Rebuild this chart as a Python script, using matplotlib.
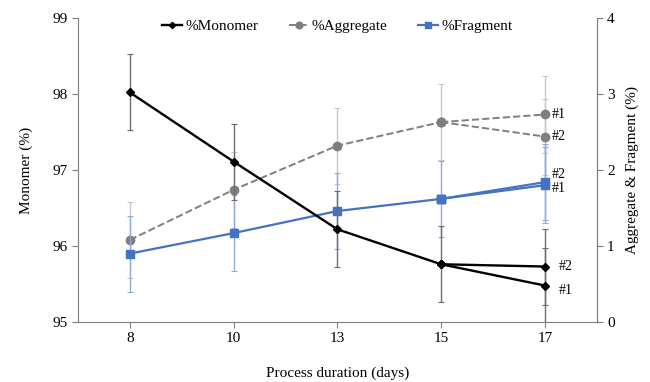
import matplotlib
matplotlib.use("Agg")
import matplotlib.pyplot as plt

plt.rcParams['font.family'] = ['Liberation Serif', 'DejaVu Serif']

# Данные
days = ["8", "10", "13", "15", "17"]
monomer = [98.02, 97.11, 96.22, 95.76]      # 8..15, общий участок
monomer_17 = {"#1": 95.48, "#2": 95.73}
aggregate = [1.08, 1.74, 2.32, 2.63]
aggregate_17 = {"#1": 2.73, "#2": 2.44}
fragment = [0.90, 1.17, 1.46, 1.62]
fragment_17 = {"#1": 1.80, "#2": 1.84}
err = 0.5

BLUE = "#4472c4"
GRAY = "#7f7f7f"

fig = plt.figure(figsize=(6.5, 3.82), dpi=100)
ax = fig.add_axes([0.12, 0.157, 0.798, 0.796])
ax2 = ax.twinx()

x = list(range(len(days)))
xm = x[:4]
x17 = x[4]


def draw_series(a, vals, ends, color, ecolor, marker, ms, ls, lw, label, z):
    # ошибки
    a.errorbar(xm, vals, yerr=err, fmt="none", ecolor=ecolor, elinewidth=1.0,
               capsize=2, capthick=0.8, zorder=z)
    for k, v in ends.items():
        a.errorbar([x17], [v], yerr=err, fmt="none", ecolor=ecolor, elinewidth=1.0,
                   capsize=2, capthick=0.8, zorder=z)
    line, = a.plot(xm, vals, color=color, marker=marker, ms=ms, ls=ls, lw=lw,
                   label=label, zorder=z + 1)
    for k, v in ends.items():
        a.plot([xm[-1], x17], [vals[-1], v], color=color, marker=marker, ms=ms,
               ls=ls, lw=lw, zorder=z + 1)
    return line


h1 = draw_series(ax, monomer, monomer_17, "black", "#6d6d6d", "D", 4, "-", 1.7, "%Monomer", 5)
h2 = draw_series(ax2, aggregate, aggregate_17, GRAY, "#c8c8c8", "o", 6, "--", 1.4, "%Aggregate", 3)
h3 = draw_series(ax2, fragment, fragment_17, BLUE, "#8fabdc", "s", 6, "-", 1.6, "%Fragment", 4)

# подписи #1 / #2
ax.text(x17 + 0.13, monomer_17["#2"], "#2", fontsize=10, va="center")
ax.text(x17 + 0.13, monomer_17["#1"] - 0.07, "#1", fontsize=10, va="center")
ax2.text(x17 + 0.07, aggregate_17["#1"], "#1", fontsize=10, va="center")
ax2.text(x17 + 0.07, aggregate_17["#2"], "#2", fontsize=10, va="center")
ax2.text(x17 + 0.07, fragment_17["#2"] + 0.1, "#2", fontsize=10, va="center")
ax2.text(x17 + 0.07, fragment_17["#1"] - 0.05, "#1", fontsize=10, va="center")

ax.set_xlim(-0.5, 4.5)
ax.set_ylim(95, 99)
ax2.set_ylim(0, 4)
ax.set_yticks([95, 96, 97, 98, 99])
ax2.set_yticks([0, 1, 2, 3, 4])
ax.set_xticks(x)
ax.set_xticklabels(days)

for a in (ax, ax2):
    a.tick_params(labelsize=11, direction="out", length=4, color=GRAY)
    for s in a.spines.values():
        s.set_color(GRAY)
    a.spines["top"].set_visible(False)
ax2.spines["left"].set_visible(False)
ax2.spines["bottom"].set_visible(False)

ax.set_xlabel("Process duration (days)", fontsize=11, labelpad=15)
ax.set_ylabel("Monomer (%)", fontsize=11, labelpad=14)
ax2.set_ylabel("Aggregate & Fragment (%)", fontsize=11, labelpad=8)

ax.set_zorder(ax2.get_zorder() + 1)
ax.patch.set_visible(False)

ax.legend([h1, h2, h3], ["%Monomer", "%Aggregate", "%Fragment"], loc="upper center",
          ncol=3, frameon=False, fontsize=11, bbox_to_anchor=(0.5, 1.04),
          handlelength=1.3, columnspacing=2.0, handletextpad=0.2, markerscale=0.8)

fig.savefig("out.png", dpi=100)
